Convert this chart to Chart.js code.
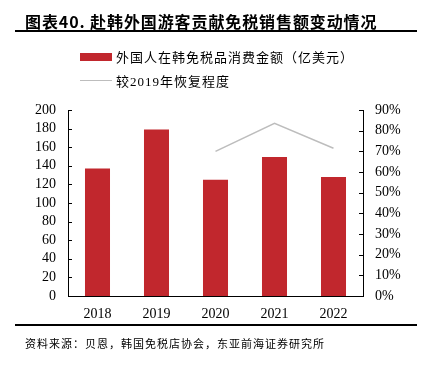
<!DOCTYPE html>
<html>
<head>
<meta charset="utf-8">
<script src="https://cdn.jsdelivr.net/npm/chart.js@4"></script>
<style>
  body { margin: 0; background: #fff; }
  #wrap { position: relative; width: 429px; height: 366px; overflow: hidden; }
  #chart { position: absolute; left: 0; top: 0; }
  .title { position: absolute; left: 25px; top: 9px; font: bold 16px "Noto Sans CJK SC", sans-serif; color: #000; white-space: nowrap; letter-spacing: 0.9px; }
  .rule { position: absolute; left: 15px; width: 402px; height: 2px; background: #000; }
  .legend { position: absolute; left: 80px; font: 13px "Liberation Serif", "Noto Sans CJK SC", serif; letter-spacing: 1px; color: #000; }
  .legend div { position: absolute; left: 0; white-space: nowrap; display: flex; align-items: center; }
  .legend i { display: inline-block; width: 32px; margin-right: 4px; }
  .source { position: absolute; left: 25px; top: 335px; font: 11px "Noto Sans CJK SC", sans-serif; letter-spacing: 1px; color: #000; white-space: nowrap; }
</style>
</head>
<body>
<div id="wrap">
  <canvas id="chart" width="429" height="366"></canvas>
  <div class="title">图表40.&nbsp;赴韩外国游客贡献免税销售额变动情况</div>
  <div class="rule" style="top:30px"></div>
  <div class="legend" id="legend"></div>
  <div class="rule" style="top:324px"></div>
  <div class="source">资料来源：贝恩，韩国免税店协会，东亚前海证券研究所</div>
</div>
<script>
// data
const years = ['2018', '2019', '2020', '2021', '2022'];
const salesUsd = [137, 179, 125, 149.5, 128];          // 亿美元
const recovery = [null, null, 0.70, 0.835, 0.715];     // vs 2019
const leftTicks = [0, 20, 40, 60, 80, 100, 120, 140, 160, 180, 200];
const rightTicks = [0, 0.1, 0.2, 0.3, 0.4, 0.5, 0.6, 0.7, 0.8, 0.9];

const barColor = '#C1272D';
const lineColor = '#BDBDBD';
const serif = '"Liberation Serif", "Times New Roman", serif';

// inward tick marks on both y axes
const innerTicks = {
  id: 'innerTicks',
  afterDraw(chart) {
    const ctx = chart.ctx;
    ctx.save();
    ctx.strokeStyle = '#000';
    ctx.lineWidth = 1;
    [['y', 1], ['y1', -1]].forEach(([id, dir]) => {
      const sc = chart.scales[id];
      const x0 = id === 'y' ? sc.right : sc.left;
      sc.ticks.forEach(t => {
        const y = Math.round(sc.getPixelForValue(t.value)) + 0.5;
        ctx.beginPath();
        ctx.moveTo(x0, y);
        ctx.lineTo(x0 + dir * 4, y);
        ctx.stroke();
      });
    });
    ctx.restore();
  }
};

const chart = new Chart(document.getElementById('chart'), {
  data: {
    labels: years,
    datasets: [
      { type: 'bar', label: '外国人在韩免税品消费金额（亿美元）', data: salesUsd, backgroundColor: barColor,
        yAxisID: 'y', barPercentage: 0.424, categoryPercentage: 1, order: 2 },
      { type: 'line', label: '较2019年恢复程度', data: recovery, borderColor: lineColor, borderWidth: 1.5,
        pointRadius: 0, yAxisID: 'y1', tension: 0, order: 1 }
    ]
  },
  plugins: [innerTicks],
  options: {
    responsive: false,
    animation: false,
    layout: { padding: { top: 110, left: 0, right: 0, bottom: 0 } },
    plugins: { legend: { display: false }, tooltip: { enabled: false } },
    scales: {
      x: {
        offset: true,
        grid: { display: false, drawTicks: false },
        border: { color: '#000', width: 1 },
        ticks: { color: '#000', font: { family: serif, size: 14 }, padding: 10 },
        afterFit: s => { s.height = 70; }
      },
      y: {
        position: 'left', min: 0, max: 200,
        afterBuildTicks: s => { s.ticks = leftTicks.map(v => ({ value: v })); },
        grid: { display: false, drawTicks: false },
        border: { color: '#000', width: 1 },
        ticks: { color: '#000', font: { family: serif, size: 14 }, padding: 12, autoSkip: false },
        afterFit: s => { s.width = 68; }
      },
      y1: {
        position: 'right', min: 0, max: 0.9,
        afterBuildTicks: s => { s.ticks = rightTicks.map(v => ({ value: v })); },
        grid: { display: false, drawTicks: false },
        border: { color: '#000', width: 1 },
        ticks: { color: '#000', font: { family: serif, size: 14 }, padding: 12, autoSkip: false,
          callback: v => Math.round(v * 100) + '%' },
        afterFit: s => { s.width = 66; }
      }
    }
  }
});

// legend built from the datasets
const legend = document.getElementById('legend');
chart.data.datasets.forEach((ds, i) => {
  const row = document.createElement('div');
  row.style.top = (i === 0 ? 47 : 71) + 'px';
  const sw = document.createElement('i');
  if (ds.type === 'bar') { sw.style.height = '8px'; sw.style.background = ds.backgroundColor; }
  else { sw.style.height = '1.5px'; sw.style.background = ds.borderColor; }
  row.appendChild(sw);
  row.appendChild(document.createTextNode(ds.label));
  legend.appendChild(row);
});
</script>
</body>
</html>
